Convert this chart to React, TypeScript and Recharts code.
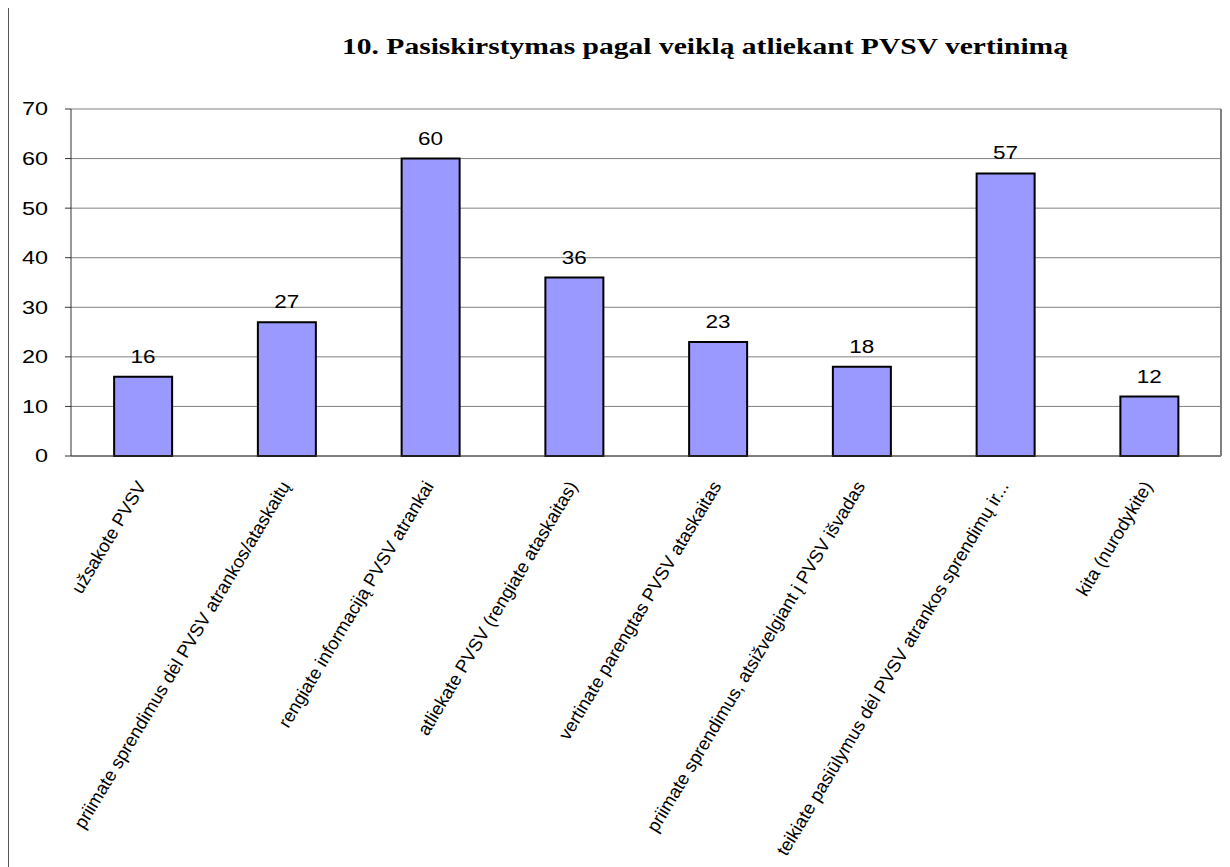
import { BarChart, Bar, XAxis, YAxis, CartesianGrid, LabelList } from 'recharts';

const categories = [
  'užsakote PVSV',
  'priimate sprendimus dėl PVSV atrankos/ataskaitų',
  'rengiate informaciją PVSV  atrankai',
  'atliekate PVSV  (rengiate ataskaitas)',
  'vertinate parengtas PVSV ataskaitas',
  'priimate sprendimus, atsižvelgiant į PVSV  išvadas',
  'teikiate pasiūlymus dėl PVSV  atrankos sprendimų ir...',
  'kita (nurodykite)',
];
const values = [16, 27, 60, 36, 23, 18, 57, 12];
const yTicks = [0, 10, 20, 30, 40, 50, 60, 70];
const boundaryTicks = [0, 1, 2, 3, 4, 5, 6, 7, 8];

const title = '10. Pasiskirstymas pagal veiklą atliekant PVSV vertinimą';

const data = categories.map((name, i) => ({ name, value: values[i] }));

const sans = '"Liberation Sans", Arial, sans-serif';

function CategoryTick({ x, y, payload }: any) {
  return (
    <g transform={`translate(${x + 4},${y + 22})`}>
      <text textAnchor="end" transform="rotate(-59)" fontSize={18.3} fill="#000" fontFamily={sans}>
        {payload.value}
      </text>
    </g>
  );
}

function ValueTick({ x, y, payload }: any) {
  return (
    <g transform={`translate(${x},${y}) scale(1.3,1)`}>
      <text textAnchor="end" dy="0.36em" fontSize={18} fill="#000" fontFamily={sans}>
        {payload.value}
      </text>
    </g>
  );
}

function BarValue({ x, y, width, value }: any) {
  return (
    <g transform={`translate(${x + width / 2},${y - 14}) scale(1.25,1)`}>
      <text textAnchor="middle" fontSize={18} fill="#000" fontFamily={sans}>
        {value}
      </text>
    </g>
  );
}

export default function App() {
  return (
    <div
      style={{
        position: 'relative',
        marginLeft: -1,
        marginTop: -1,
        width: 1221,
        height: 859,
        borderTop: '1px solid #000',
        borderLeft: '2px solid #555',
        background: '#fff',
      }}
    >
      <svg width={1221} height={80} style={{ position: 'absolute', left: 0, top: 0 }}>
        <text
          x={696}
          y={46}
          textAnchor="middle"
          fontFamily='"Liberation Serif", "Times New Roman", serif'
          fontWeight="bold"
          fontSize={24}
          textLength={726}
          lengthAdjust="spacingAndGlyphs"
          fill="#000"
        >
          {title}
        </text>
      </svg>
      <BarChart
        width={1221}
        height={859}
        data={data}
        margin={{ top: 101, right: 0, bottom: 0, left: 0 }}
        barCategoryGap="30%"
      >
        <CartesianGrid xAxisId="cat" yAxisId="left" vertical={false} stroke="#808080" />
        <XAxis
          xAxisId="bounds"
          type="number"
          domain={[0, 8]}
          ticks={boundaryTicks}
          allowDataOverflow
          height={8}
          tick={false}
          tickSize={6}
          axisLine={{ stroke: '#404040' }}
          tickLine={{ stroke: '#404040' }}
        />
        <XAxis
          xAxisId="cat"
          dataKey="name"
          height={403}
          interval={0}
          axisLine={false}
          tickLine={false}
          tickSize={0}
          tickMargin={0}
          tick={<CategoryTick />}
        />
        <YAxis
          yAxisId="left"
          domain={[0, 70]}
          ticks={yTicks}
          width={62}
          tickSize={6}
          tickMargin={17}
          axisLine={{ stroke: '#333' }}
          tickLine={{ stroke: '#333' }}
          tick={<ValueTick />}
        />
        <YAxis
          yAxisId="right"
          orientation="right"
          domain={[0, 70]}
          width={9}
          tick={false}
          tickLine={false}
          axisLine={{ stroke: '#808080', strokeWidth: 2 }}
        />
        <Bar
          xAxisId="cat"
          yAxisId="left"
          dataKey="value"
          fill="#9999FF"
          stroke="#000"
          strokeWidth={2}
          isAnimationActive={false}
        >
          <LabelList dataKey="value" content={<BarValue />} />
        </Bar>
      </BarChart>
    </div>
  );
}
